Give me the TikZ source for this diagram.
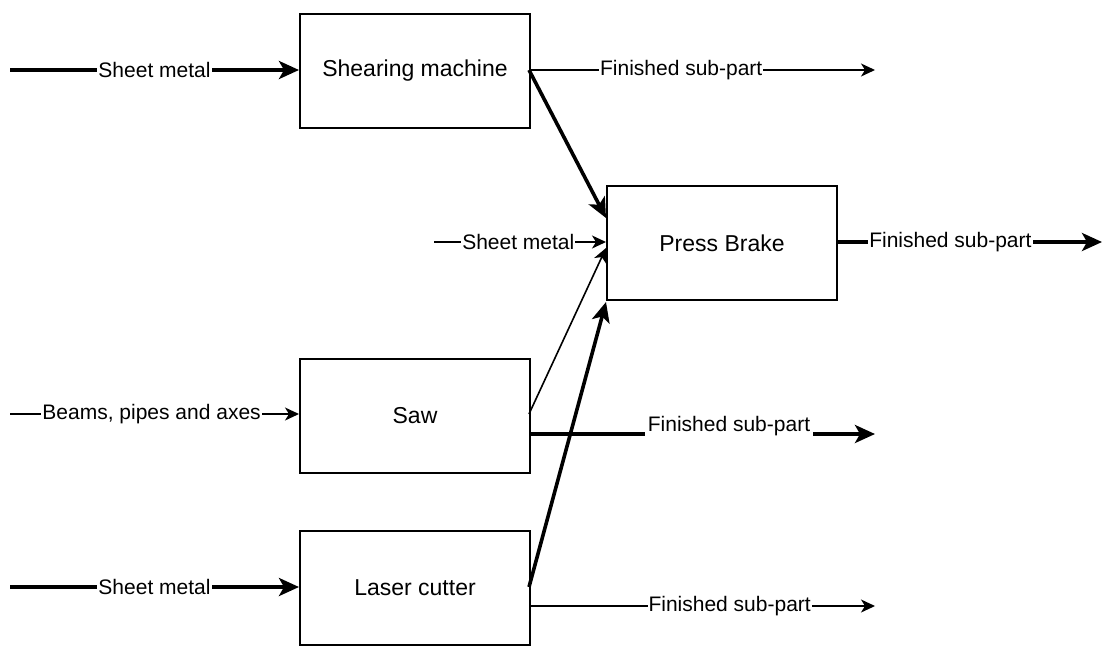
\documentclass[tikz,border=0pt]{standalone}
\usepackage{fontspec}
\setmainfont{Liberation Sans}
\usetikzlibrary{arrows.meta}
\begin{document}
\begin{tikzpicture}[x=1pt,y=-1pt,
  proc/.style={draw,line width=2pt,minimum width=230pt,minimum height=114pt,anchor=north west,inner sep=0pt,font=\fontsize{23}{27}\selectfont},
  lbl/.style={fill=white,inner sep=1pt,font=\fontsize{21}{25}\selectfont},
  thin/.style={line width=1.6pt,-{Stealth[length=14pt,width=13pt,inset=4pt]}},
  thick/.style={line width=3.6pt,-{Stealth[length=20pt,width=18pt,inset=5pt]}}]
\useasboundingbox (0,0) rectangle (1102,646);

% process boxes
\node[proc] (shear) at (299,13) {Shearing machine};
\node[proc] (press) at (606,185) {Press Brake};
\node[proc] (saw) at (299,358) {Saw};
\node[proc] (laser) at (299,530) {Laser cutter};

% attachment points
\coordinate (shO) at (529,70);
\coordinate (sawO) at (529,414);
\coordinate (sawF) at (529,434);
\coordinate (laO) at (529,587);
\coordinate (laF) at (529,606);
\coordinate (prA) at (606,218);
\coordinate (prB) at (606,242);
\coordinate (prC) at (606,248);
\coordinate (prD) at (606,302);
\coordinate (prO) at (836,242);

% free ends
\coordinate (in1) at (10,70);
\coordinate (in2) at (434,242);
\coordinate (in3) at (10,414);
\coordinate (in4) at (10,587);
\coordinate (out1) at (875,70);
\coordinate (out2) at (1102,242);
\coordinate (out3) at (875,434);
\coordinate (out4) at (875,606);

% inputs
\draw[thick] (in1) -- (in1 -| shear.west) node[lbl,pos=0.5] {Sheet metal};
\draw[thin] (in2) -- (prB) node[lbl,pos=0.49] {Sheet metal};
\draw[thin] (in3) -- (in3 -| saw.west) node[lbl,pos=0.49] {Beams, pipes and axes};
\draw[thick] (in4) -- (in4 -| laser.west) node[lbl,pos=0.5] {Sheet metal};

% flows into the press brake
\draw[thick] (shO) -- (prA);
\draw[thin] (sawO) -- (prC);
\draw[thick] (laO) -- (prD);

% outputs
\draw[thin] (shO) -- (out1) node[lbl,pos=0.44] {Finished sub-part};
\draw[thick] (prO) -- (out2) node[lbl,pos=0.43] {Finished sub-part};
\draw[thick] (sawF) -- (out3);
\node[lbl,inner sep=3pt] (sawlbl) at (729,426) {Finished sub-part};
\draw[thin] (laF) -- (out4) node[lbl,pos=0.58] {Finished sub-part};
\end{tikzpicture}
\end{document}
